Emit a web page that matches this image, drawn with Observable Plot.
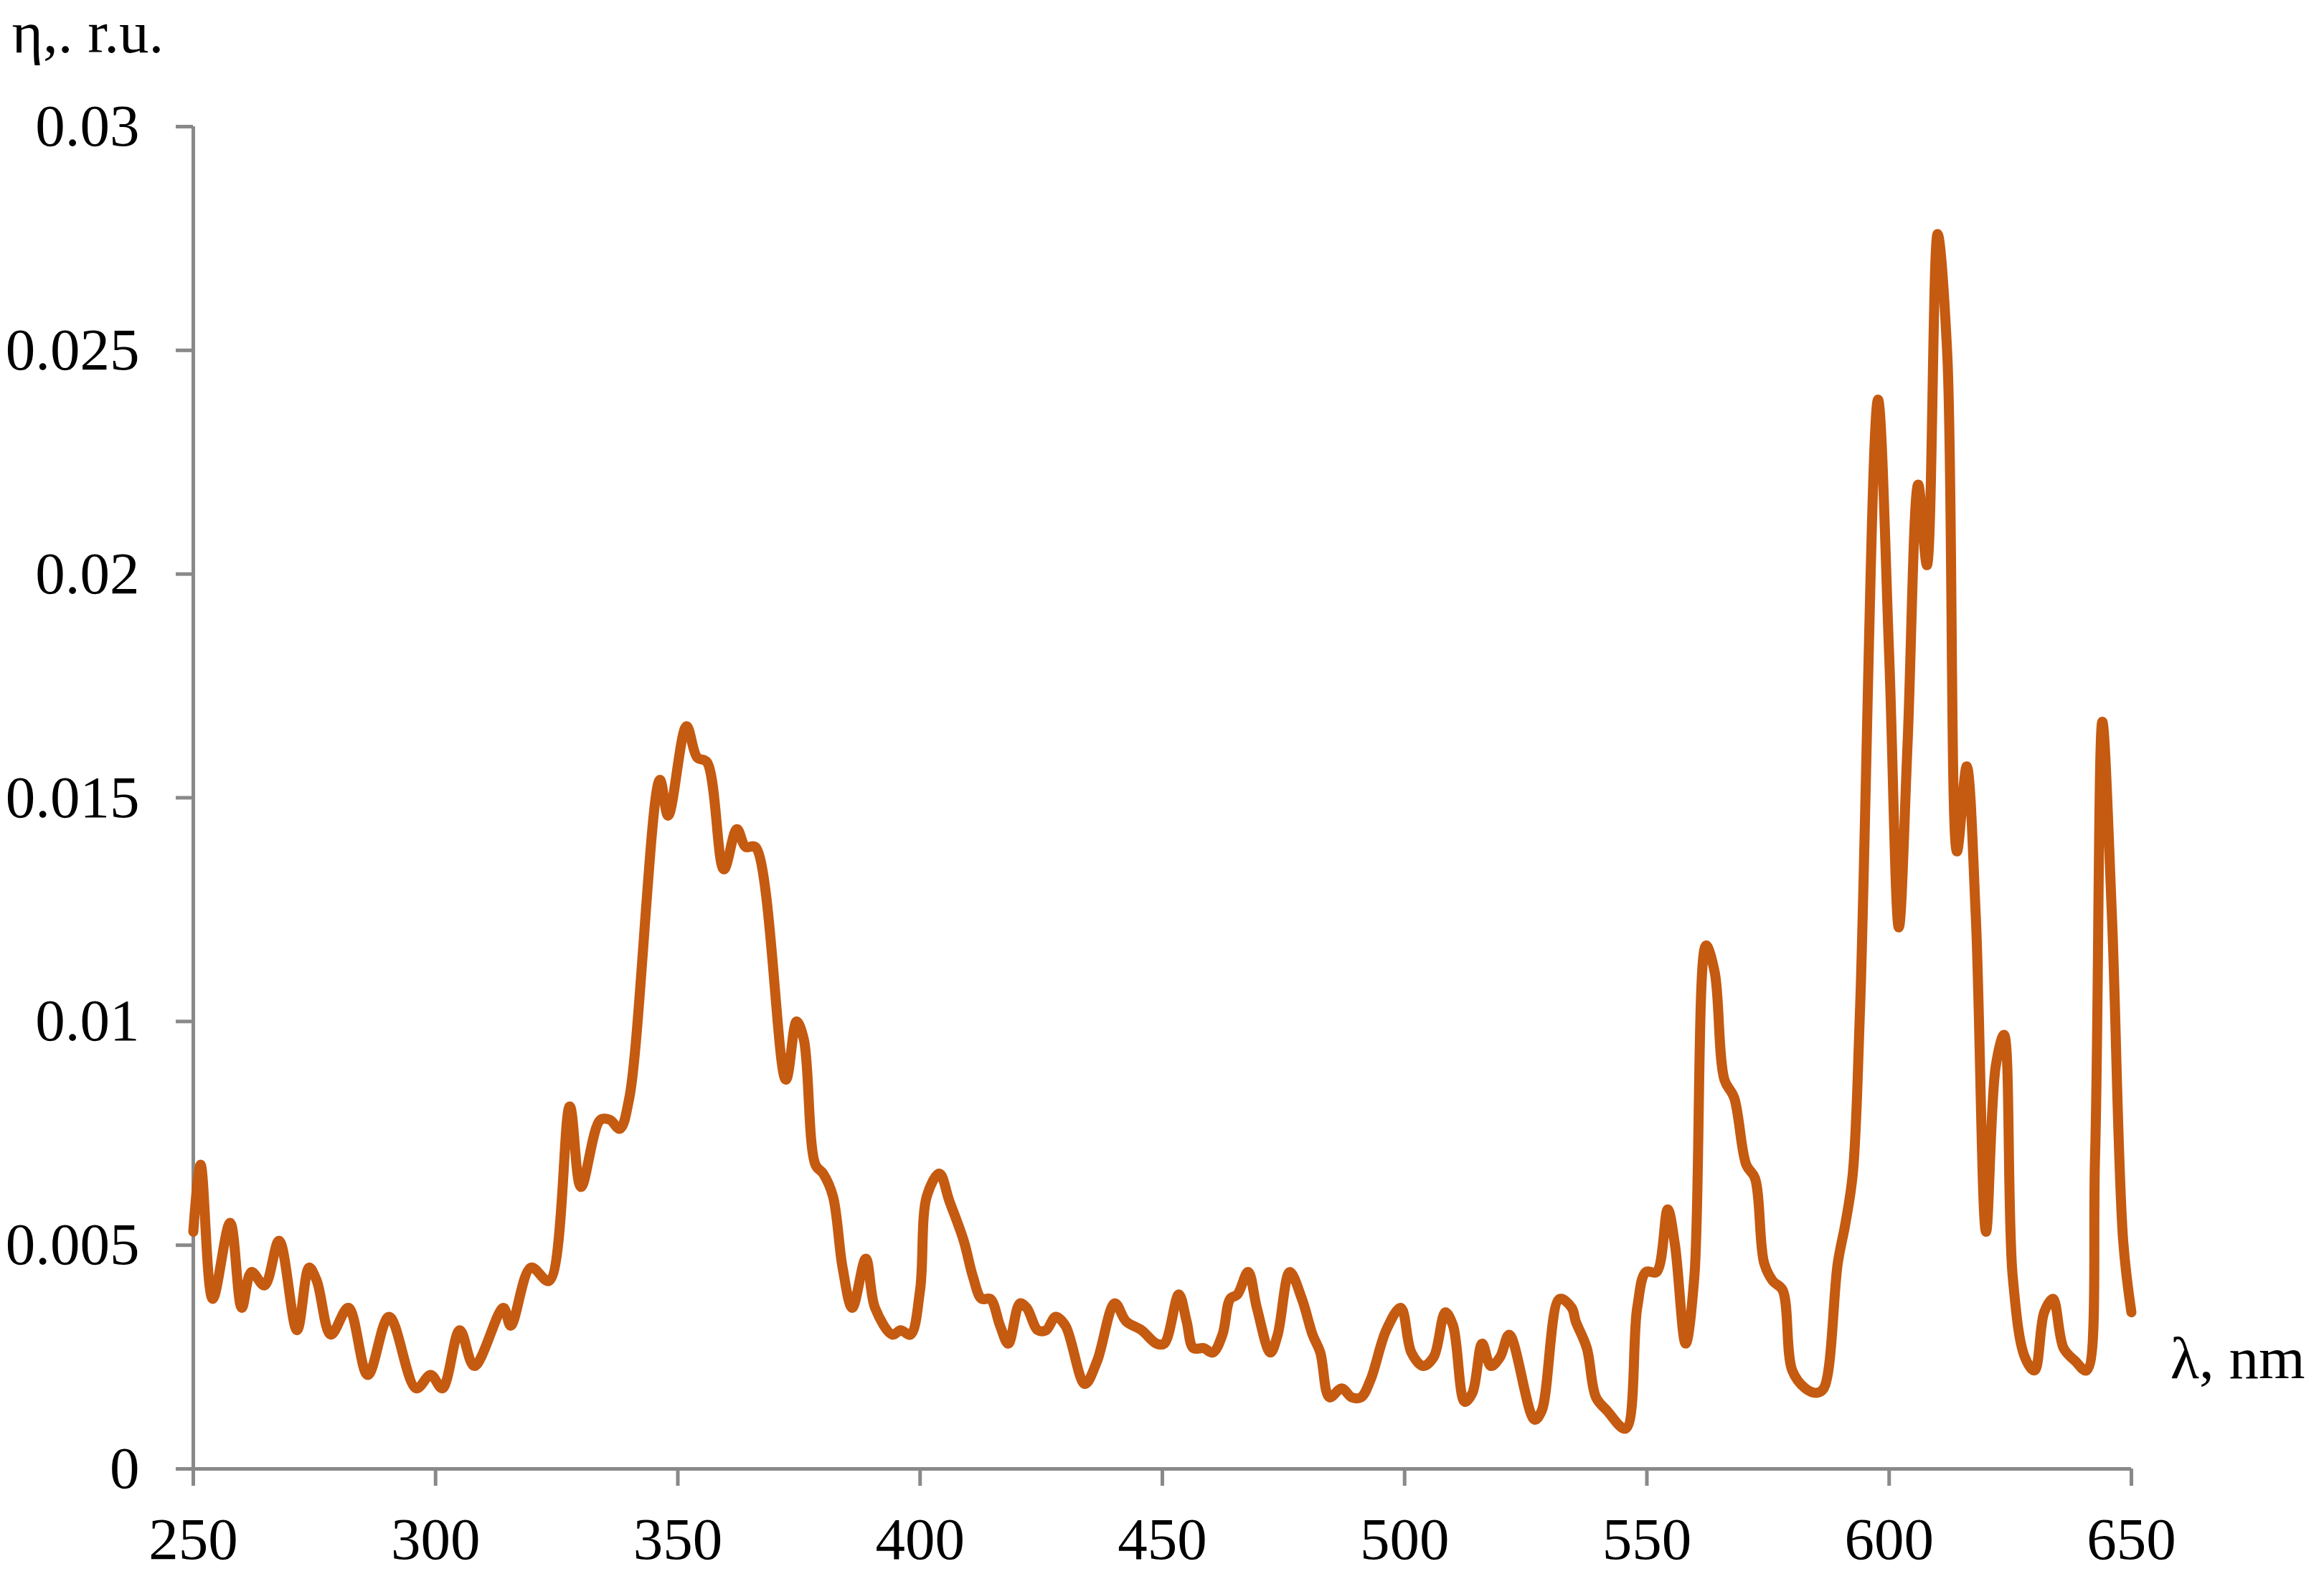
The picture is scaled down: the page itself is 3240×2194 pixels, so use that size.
<!DOCTYPE html>
<html>
<head>
<meta charset="utf-8">
<script src="https://cdn.jsdelivr.net/npm/d3@7"></script>
<script src="https://cdn.jsdelivr.net/npm/@observablehq/plot@0.6"></script>
<style>
  html, body { margin: 0; padding: 0; background: white; }
  #chart svg { display: block; }
</style>
</head>
<body>
<div id="chart"></div>
<script>
// Wavelength, nm
const wavelength = [
  250, 251.5, 254, 257.6, 260, 262, 264.7, 267.7, 271.4, 273.9, 275.5, 278.4, 282, 286, 290.4, 296, 299, 301.4,
  305, 308, 314, 315.5, 319.7, 323.4, 327.7, 330, 334, 336, 338, 340, 346.3, 348, 351.8, 354, 356, 359.5, 362.2,
  364, 366, 372.3, 374.5, 376, 378.4, 380, 382, 384, 386, 388.8, 390.7, 394.3, 396, 398, 400, 401.4, 404, 406,
  409, 410.9, 412.7, 414.5, 416.5, 418.2, 420.6, 422, 424.3, 426, 428, 430, 434, 436.5, 440.2, 442.5, 445.7,
  448.8, 450.4, 453.4, 455, 456.4, 458.5, 460.4, 462.4, 464, 465.5, 467.7, 469.5, 472.3, 473.8, 476.3, 478.8,
  481, 482.6, 484.5, 487, 489.1, 491, 493, 496.2, 499.2, 501.4, 503.8, 506, 508.4, 510, 512.4, 514, 516, 517.8,
  519.7, 521.6, 526.8, 528.3, 532, 534.5, 535.3, 537.6, 539.5, 541.8, 545.6, 548, 549.8, 552, 554.3, 555.8, 558,
  559.8, 562.2, 564, 566, 568, 570.5, 572.3, 574.2, 576, 578, 580, 582.7, 585, 586.5, 589.4, 591, 592.5, 594,
  597.7, 600, 602, 603.8, 606, 607.8, 610, 612, 614, 616, 617.9, 620, 622, 623.7, 625.5, 628, 630, 632, 633.8,
  636, 638.5, 640.7, 642.5, 644, 646, 648.3, 650
];
// Quantum efficiency η, relative units
const eta = [
  0.0053, 0.0068, 0.0038, 0.0055, 0.0036, 0.0044, 0.0041, 0.0051, 0.0031, 0.0045, 0.0042, 0.0030, 0.0036, 0.0021, 0.0034, 0.0018, 0.0021, 0.0018,
  0.0031, 0.0023, 0.0036, 0.0032, 0.0045, 0.0042, 0.0081, 0.0063, 0.0078, 0.0078, 0.0076, 0.0083, 0.0154, 0.0146, 0.0166, 0.0159, 0.0158, 0.0134, 0.0143,
  0.0139, 0.0139, 0.0087, 0.0100, 0.0096, 0.0068, 0.0066, 0.0061, 0.0045, 0.0036, 0.0047, 0.0036, 0.0030, 0.0031, 0.0030, 0.0040, 0.0061, 0.0066, 0.0060,
  0.0051, 0.0043, 0.0038, 0.0038, 0.0032, 0.0028, 0.0037, 0.0036, 0.0031, 0.0031, 0.0034, 0.0032, 0.0019, 0.0024, 0.0037, 0.0033, 0.0031,
  0.0028, 0.0028, 0.0039, 0.0033, 0.0027, 0.0027, 0.0026, 0.0030, 0.0038, 0.0039, 0.0044, 0.0036, 0.0026, 0.0030, 0.0044, 0.0038,
  0.0030, 0.0026, 0.0016, 0.0018, 0.0016, 0.0016, 0.0020, 0.0031, 0.0036, 0.0026, 0.0023, 0.0025, 0.0035, 0.0032, 0.0015, 0.0017, 0.0028, 0.0023,
  0.0025, 0.0030, 0.0011, 0.0013, 0.0038, 0.0036, 0.0033, 0.0027, 0.0016, 0.0013, 0.0009, 0.0036, 0.0044, 0.0044, 0.0058, 0.0050, 0.0028,
  0.0043, 0.0117, 0.0111, 0.0087, 0.0083, 0.0068, 0.0065, 0.0046, 0.0042, 0.0040, 0.0022, 0.0018, 0.0017, 0.0018, 0.0046, 0.0055, 0.0066, 0.0103,
  0.0239, 0.0182, 0.0121, 0.0162, 0.0220, 0.0202, 0.0276, 0.0249, 0.0138, 0.0157, 0.0123, 0.0053, 0.0090, 0.0097, 0.0043, 0.0025, 0.0022, 0.0035, 0.0038,
  0.0027, 0.0024, 0.0022, 0.0070, 0.0167, 0.0123, 0.0051, 0.0035
];
const xTicks = [250, 300, 350, 400, 450, 500, 550, 600, 650];
const yTicks = [0, 0.005, 0.01, 0.015, 0.02, 0.025, 0.03];
const yTickLabels = ["0", "0.005", "0.01", "0.015", "0.02", "0.025", "0.03"];
const yLabel = "η,. r.u.";
const xLabel = "λ, nm";

const data = wavelength.map((w, i) => ({w, eta: eta[i]}));
const axisGray = "#898989";
const lineColor = "#C55A11";
const fs = 83;

const chart = Plot.plot({
  width: 3240,
  height: 2194,
  marginLeft: 269,
  marginRight: 269,
  marginTop: 176,
  marginBottom: 147,
  style: {fontFamily: "'Liberation Serif', 'Times New Roman', serif", fontSize: fs + "px", background: "white", color: "black", overflow: "visible"},
  x: {domain: [250, 650]},
  y: {domain: [0, 0.03]},
  marks: [
    Plot.ruleY([0], {stroke: axisGray, strokeWidth: 5}),
    Plot.ruleX([250], {stroke: axisGray, strokeWidth: 5}),
    Plot.axisX({ticks: xTicks, tickSize: 24, tickPadding: 43, stroke: axisGray, strokeWidth: 5, fill: "black", label: null, fontSize: fs}),
    Plot.axisY({ticks: yTicks, tickSize: 24, tickPadding: 51, tickFormat: (d) => yTickLabels[yTicks.indexOf(d)], stroke: axisGray, strokeWidth: 5, fill: "black", label: null, fontSize: fs}),
    Plot.line(data, {x: "w", y: "eta", stroke: lineColor, strokeWidth: 14, curve: "catmull-rom", strokeLinejoin: "round", strokeLinecap: "round"}),
    Plot.text([yLabel], {text: (d) => d, frameAnchor: "top-left", textAnchor: "start", lineAnchor: "middle", dx: -253, dy: -130, fontSize: fs, fill: "black"}),
    Plot.text([xLabel], {text: (d) => d, frameAnchor: "bottom-right", textAnchor: "end", lineAnchor: "middle", dx: 242, dy: -153, fontSize: fs, fill: "black"})
  ]
});
document.getElementById("chart").appendChild(chart);
</script>
</body>
</html>
